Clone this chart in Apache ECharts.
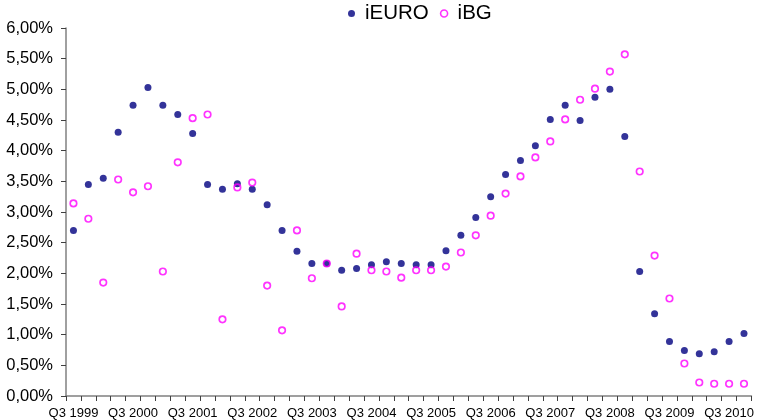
<!DOCTYPE html>
<html>
<head>
<meta charset="utf-8">
<script src="https://cdn.jsdelivr.net/npm/echarts@6/dist/echarts.min.js"></script>
<style>html,body{margin:0;padding:0;background:#fff}#c{width:757px;height:420px}</style>
</head>
<body>
<div id="c"></div>
<script>
var categories = [
 'Q3 1999','Q4 1999','Q1 2000','Q2 2000','Q3 2000','Q4 2000','Q1 2001','Q2 2001',
 'Q3 2001','Q4 2001','Q1 2002','Q2 2002','Q3 2002','Q4 2002','Q1 2003','Q2 2003',
 'Q3 2003','Q4 2003','Q1 2004','Q2 2004','Q3 2004','Q4 2004','Q1 2005','Q2 2005',
 'Q3 2005','Q4 2005','Q1 2006','Q2 2006','Q3 2006','Q4 2006','Q1 2007','Q2 2007',
 'Q3 2007','Q4 2007','Q1 2008','Q2 2008','Q3 2008','Q4 2008','Q1 2009','Q2 2009',
 'Q3 2009','Q4 2009','Q1 2010','Q2 2010','Q3 2010','Q4 2010'
];
var iEURO = [2.70,3.45,3.55,4.30,4.74,5.03,4.74,4.59,4.28,3.45,3.37,3.46,3.37,3.12,2.70,2.36,
 2.16,2.16,2.05,2.08,2.14,2.19,2.16,2.14,2.14,2.37,2.62,2.91,3.25,3.61,3.84,4.08,
 4.51,4.74,4.49,4.87,5.00,4.23,2.03,1.34,0.89,0.74,0.69,0.72,0.89,1.02];
var iBG = [3.14,2.89,1.85,3.53,3.32,3.42,2.03,3.81,4.53,4.59,1.25,3.40,3.48,1.80,1.07,2.70,
 1.92,2.16,1.46,2.32,2.05,2.03,1.93,2.05,2.05,2.11,2.34,2.62,2.94,3.30,3.58,3.89,
 4.15,4.51,4.83,5.01,5.29,5.57,3.66,2.29,1.59,0.53,0.22,0.20,0.20,0.20];
var yMin = 0, yMax = 6, yStep = 0.5;

var chart = echarts.init(document.getElementById('c'), null, {renderer:'canvas'});
var font = 'Liberation Sans, Arial, sans-serif';
chart.setOption({
  animation: false,
  backgroundColor: '#fff',
  legend: {
    top: 1, left: 346, padding: [2, 2, 2, 2],
    itemWidth: 7, itemHeight: 7, itemGap: 11,
    textStyle: {fontFamily: font, fontSize: 20.5, color: '#000', padding: [0, 0, 0, 5]},
    data: [
      {name:'iEURO', icon:'circle', itemStyle:{color:'#000080'}},
      {name:'iBG', icon:'circle', itemStyle:{color:'#fff', borderColor:'#ff00ff', borderWidth:1.6}}
    ]
  },
  grid: {left: 66, right: 3, top: 28, bottom: 21, containLabel: false},
  xAxis: {
    type: 'category', data: categories, boundaryGap: true,
    axisLine: {show: true, lineStyle: {color: '#808080', width: 1.5}},
    axisTick: {show: true, interval: 0, length: 5, lineStyle: {color: '#404040', width: 1}},
    axisLabel: {interval: 3, margin: 11, fontFamily: font, fontSize: 13, color: '#000', hideOverlap: false},
    splitLine: {show: false}
  },
  yAxis: {
    type: 'value', min: yMin, max: yMax, interval: yStep,
    axisLine: {show: true, lineStyle: {color: '#808080', width: 1.5}},
    axisTick: {show: true, length: 5, lineStyle: {color: '#404040', width: 1}},
    axisLabel: {margin: 13, fontFamily: font, fontSize: 16.5, color: '#000',
      formatter: function(v){ return v.toFixed(2).replace('.', ',') + '%'; }},
    splitLine: {show: false}
  },
  series: [
    {name:'iEURO', type:'scatter', data: iEURO, symbol:'circle', symbolSize: 7,
     itemStyle:{color:'#000080'}, z: 2},
    {name:'iBG', type:'scatter', data: iBG, symbol:'circle', symbolSize: 6.5,
     itemStyle:{color:'rgba(255,255,255,0)', borderColor:'#ff00ff', borderWidth:1.7}, z: 3}
  ]
});
</script>
</body>
</html>
